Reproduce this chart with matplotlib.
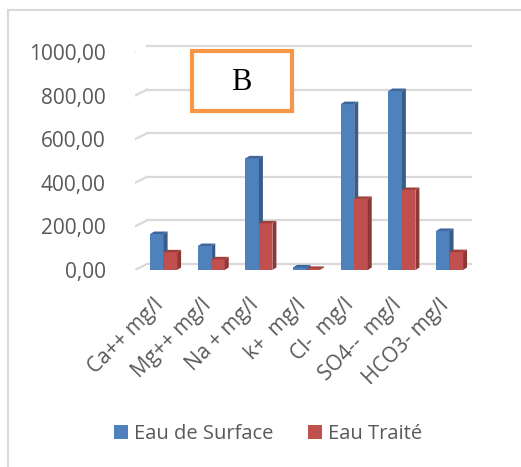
import matplotlib
matplotlib.use("Agg")
import matplotlib.pyplot as plt
from matplotlib.patches import Polygon, Patch, Rectangle
from matplotlib.lines import Line2D
from matplotlib.transforms import ScaledTranslation
import numpy as np

categories = ["Ca++ mg/l", "Mg++ mg/l", "Na + mg/l", "k+  mg/l", "Cl-  mg/l", "SO4--  mg/l", "HCO3- mg/l"]
surface = [165, 110, 512, 12, 761, 821, 179]
traite = [81, 49, 214, 5, 326, 367, 82]
yticks = [0, 200, 400, 600, 800, 1000]
ytick_labels = ["0,00", "200,00", "400,00", "600,00", "800,00", "1000,00"]
series_names = ["Eau de Surface", "Eau Traité"]

W, H, DPI = 521, 467, 100
fig = plt.figure(figsize=(W / DPI, H / DPI), dpi=DPI)
plt.rcParams['font.family'] = ['Open Sans', 'DejaVu Sans']

def px(x0, y0, x1, y1):
    return [x0 / W, 1 - y1 / H, (x1 - x0) / W, (y1 - y0) / H]

ax = fig.add_axes(px(135, 52, 471, 270))
ax.set_xlim(-0.6, 6.45)
ax.set_ylim(0, 1000)
for s in ax.spines.values():
    s.set_visible(False)
ax.set_facecolor('none')

grid_c = '#d9d9d9'
gdx, gdy = 12, 6
back = ax.transData + ScaledTranslation(gdx / DPI, gdy / DPI, fig.dpi_scale_trans)
for t in yticks:
    ax.plot([-0.6, 6.45 - gdx / 47.66], [t, t], color=grid_c, lw=1.6, transform=back, zorder=0, clip_on=False)
    p0 = ax.transData.transform((-0.6, t))
    ax.add_line(Line2D([p0[0], p0[0] + gdx], [p0[1], p0[1] + gdy], color=grid_c, lw=1.6,
                       transform=None, zorder=0))

x = np.arange(len(categories))
w = 0.283
bdx, bdy = 4, 2.5
colors = [('#4f81bd', '#385d8a', '#3d679c'), ('#c0504d', '#8c3836', '#a13f3c')]
for j, vals in enumerate([surface, traite]):
    front, side, top = colors[j]
    bars = ax.bar(x + (j - 0.5) * w, vals, width=w, color=front, zorder=2 + j * 2)
    for b in bars:
        (x0, y0), (x1, y1) = ax.transData.transform([(b.get_x(), 0), (b.get_x() + b.get_width(), b.get_height())])
        ax.add_patch(Polygon([(x1, y0), (x1 + bdx, y0 + bdy), (x1 + bdx, y1 + bdy), (x1, y1)],
                             closed=True, facecolor=side, edgecolor='none', transform=None, zorder=2.5 + j * 2))
        ax.add_patch(Polygon([(x0, y1), (x1, y1), (x1 + bdx, y1 + bdy), (x0 + bdx, y1 + bdy)],
                             closed=True, facecolor=top, edgecolor='none', transform=None, zorder=2.6 + j * 2))

txt_c = '#595959'
fs = 15
ax.set_yticks(yticks)
ax.set_yticklabels(ytick_labels, fontsize=fs, color=txt_c)
ax.set_xticks(x)
ax.set_xticklabels(categories, fontsize=fs, color=txt_c, rotation=45, ha='right', va='top',
                   rotation_mode='anchor')
ax.tick_params(axis='y', length=0, pad=21)
ax.tick_params(axis='x', length=0, pad=4)
shift = ScaledTranslation(-11 / DPI, -19 / DPI, fig.dpi_scale_trans)
for lab in ax.get_xticklabels():
    lab.set_transform(lab.get_transform() + shift)

handles = [Patch(facecolor=colors[0][0]), Patch(facecolor=colors[1][0])]
fig.legend(handles, series_names, loc='center', bbox_to_anchor=(268 / W, 1 - 434 / H), ncol=2,
           frameon=False, fontsize=14.5, labelcolor=txt_c, handlelength=0.7, handleheight=0.7,
           handletextpad=0.3, columnspacing=1.7)

# "B" box
fig.add_artist(Rectangle((192 / W, 1 - 111 / H), 100 / W, 60 / H, transform=fig.transFigure,
                         facecolor='white', edgecolor='#f79646', lw=3, zorder=5))
fig.text(241 / W, 1 - 83 / H, "B", fontsize=22, family='Liberation Serif', ha='center', va='center',
         color='black', zorder=6)

# outer border
fig.add_artist(Line2D([8 / W, 1], [1 - 10 / H, 1 - 10 / H], color='#d9d9d9', lw=1.5))
fig.add_artist(Line2D([8 / W, 8 / W], [0, 1 - 10 / H], color='#d9d9d9', lw=1.5))

fig.savefig("out.png", dpi=DPI)
